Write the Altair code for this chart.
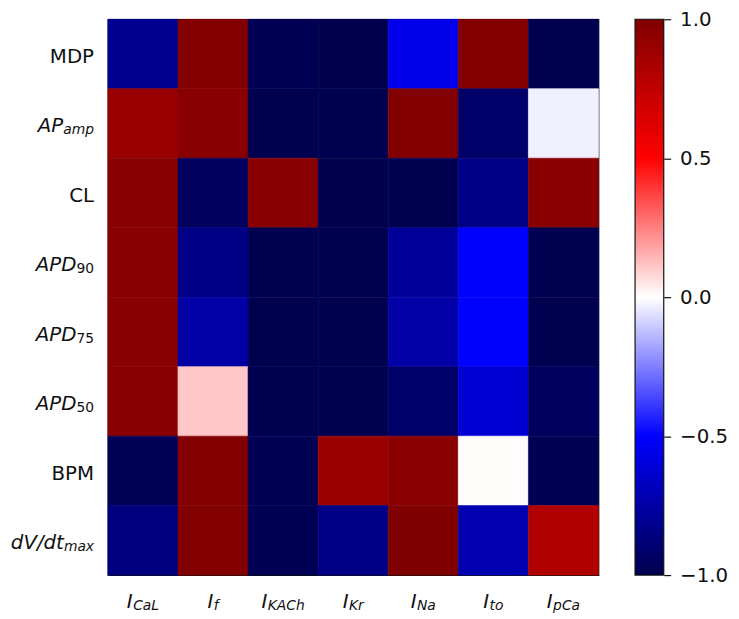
import altair as alt
import pandas as pd

# ---------------- data ----------------
rows = ["MDP", "AP_amp", "CL", "APD_90", "APD_75", "APD_50", "BPM", "dV/dt_max"]
cols = ["I_CaL", "I_f", "I_KACh", "I_Kr", "I_Na", "I_to", "I_pCa"]

values = [
    [-0.81, 0.99, -0.98, -1.00, -0.56, 0.99, -0.99],   # MDP
    [0.90, 0.97, -0.99, -0.99, 0.99, -0.92, -0.03],    # AP_amp
    [0.97, -0.95, 0.97, -1.00, -0.99, -0.84, 0.96],    # CL
    [0.97, -0.84, -0.99, -0.99, -0.79, -0.50, -0.99],  # APD_90
    [0.97, -0.75, -0.99, -0.99, -0.75, -0.50, -0.99],  # APD_75
    [0.97, 0.11, -0.99, -0.99, -0.92, -0.62, -0.95],   # APD_50
    [-0.97, 0.99, -0.98, 0.90, 0.96, 0.005, -0.98],    # BPM
    [-0.86, 0.99, -0.98, -0.84, 1.00, -0.72, 0.81],    # dV/dt_max
]

cbar_ticks = [-1.0, -0.5, 0.0, 0.5, 1.0]

# label parts
row_main = ["MDP", "AP", "CL", "APD", "APD", "APD", "BPM", "dV/dt"]
row_sub = ["", "amp", "", "90", "75", "50", "", "max"]
row_main_italic = [False, True, False, True, True, True, False, True]
row_sub_italic = [False, True, False, False, False, False, False, True]
col_main = ["I", "I", "I", "I", "I", "I", "I"]
col_sub = ["CaL", "f", "KACh", "Kr", "Na", "to", "pCa"]

# seismic colormap anchors
cmap_domain = [-1.0, -0.5, 0.0, 0.5, 1.0]
cmap_colors = ["#00004d", "#0000ff", "#ffffff", "#ff0000", "#800000"]

# ---------------- layout ----------------
FONT = "DejaVu Sans"
W, H = 496, 562
MAIN_FS, SUB_FS = 20, 14
INK = "#111"

CHAR_W = {
    "A": .684, "B": .686, "C": .698, "D": .770, "I": .295, "K": .656, "L": .557,
    "M": .863, "N": .748, "P": .603, "V": .684, "a": .613, "c": .550, "d": .635,
    "f": .352, "h": .634, "m": .974, "p": .635, "r": .411, "t": .392, "o": .612,
    "x": .592, "/": .337,
}


def text_w(s, fs):
    return sum(CHAR_W.get(ch, 0.636) for ch in s) * fs


df = pd.DataFrame(
    [{"row": r, "col": c, "v": values[i][j]} for i, r in enumerate(rows) for j, c in enumerate(cols)]
)

xs = alt.Scale(domain=cols, paddingInner=0, paddingOuter=0)
ys = alt.Scale(domain=rows, paddingInner=0, paddingOuter=0)
cscale = alt.Scale(domain=cmap_domain, range=cmap_colors, interpolate="rgb")

heat = alt.Chart(df).mark_rect(strokeWidth=0.6).encode(
    x=alt.X("col:N", scale=xs, axis=alt.Axis(labels=False, title=None, domain=False,
                                             tickSize=6, tickWidth=1.2, tickColor=INK)),
    y=alt.Y("row:N", scale=ys, axis=alt.Axis(labels=False, title=None, domain=False,
                                             tickSize=6, tickWidth=1.2, tickColor=INK)),
    color=alt.Color("v:Q", scale=cscale, legend=None),
    stroke=alt.Stroke("v:Q", scale=cscale, legend=None),
)

layers = [heat]

# y tick labels (right-aligned, with subscripts)
RIGHT = -14
YGAP = 0
for i, r in enumerate(rows):
    d = pd.DataFrame({"row": [r], "m": [row_main[i]], "s": [row_sub[i]]})
    sw = text_w(row_sub[i], SUB_FS) + YGAP if row_sub[i] else 0
    layers.append(
        alt.Chart(d).mark_text(align="right", baseline="alphabetic", dy=9, fontSize=MAIN_FS,
                               font=FONT, color=INK,
                               fontStyle="italic" if row_main_italic[i] else "normal").encode(
            y=alt.Y("row:N", scale=ys, axis=None), x=alt.value(RIGHT - sw), text="m:N")
    )
    if row_sub[i]:
        layers.append(
            alt.Chart(d).mark_text(align="right", baseline="alphabetic", dy=11, fontSize=SUB_FS,
                                   font=FONT, color=INK,
                                   fontStyle="italic" if row_sub_italic[i] else "normal").encode(
                y=alt.Y("row:N", scale=ys, axis=None), x=alt.value(RIGHT), text="s:N")
        )

# x tick labels (centered, with subscripts)
XBASE = 595
XGAP = 0.5
for j, c in enumerate(cols):
    d = pd.DataFrame({"col": [c], "m": [col_main[j]], "s": [col_sub[j]]})
    mw = text_w(col_main[j], MAIN_FS)
    total = mw + XGAP + text_w(col_sub[j], SUB_FS)
    layers.append(
        alt.Chart(d).mark_text(align="left", baseline="alphabetic", dx=-total / 2, fontSize=MAIN_FS,
                               font=FONT, color=INK, fontStyle="italic").encode(
            x=alt.X("col:N", scale=xs, axis=None), y=alt.value(XBASE), text="m:N")
    )
    layers.append(
        alt.Chart(d).mark_text(align="left", baseline="alphabetic", dx=-total / 2 + mw + XGAP, dy=2.5,
                               fontSize=SUB_FS, font=FONT, color=INK, fontStyle="italic").encode(
            x=alt.X("col:N", scale=xs, axis=None), y=alt.value(XBASE), text="s:N")
    )

heat_group = alt.layer(*layers)

# colorbar
cb = pd.DataFrame({"lo": [cmap_domain[0]], "hi": [cmap_domain[-1]]})
grad = alt.LinearGradient(
    gradient="linear",
    stops=[alt.GradientStop(color=col, offset=(v + 1) / 2) for v, col in zip(cmap_domain, cmap_colors)],
    x1=0, x2=0, y1=1, y2=0,
)
cbar = alt.Chart(cb).mark_rect(fill=grad, stroke=INK, strokeWidth=1.2).encode(
    x=alt.value(533), x2=alt.value(562),
    y=alt.Y("lo:Q", scale=alt.Scale(domain=[-1, 1], nice=False, zero=False),
            axis=alt.Axis(orient="right", offset=66, values=cbar_ticks, format=".1f", title=None,
                          domain=False, grid=False, tickSize=7, tickWidth=1.2, tickColor=INK,
                          labelPadding=9, labelFontSize=MAIN_FS, labelFont=FONT, labelColor=INK)),
    y2="hi:Q",
)

chart = alt.layer(heat_group, cbar).resolve_scale(y="independent").properties(
    width=W, height=H,
    autosize=alt.AutoSizeParams(type="none"),
    padding={"left": 101, "top": 8, "right": 134, "bottom": 41},
).configure(font=FONT).configure_view(stroke=INK, strokeWidth=1.2)

chart.save("out.html", embed_options={"renderer": "svg", "actions": False})
